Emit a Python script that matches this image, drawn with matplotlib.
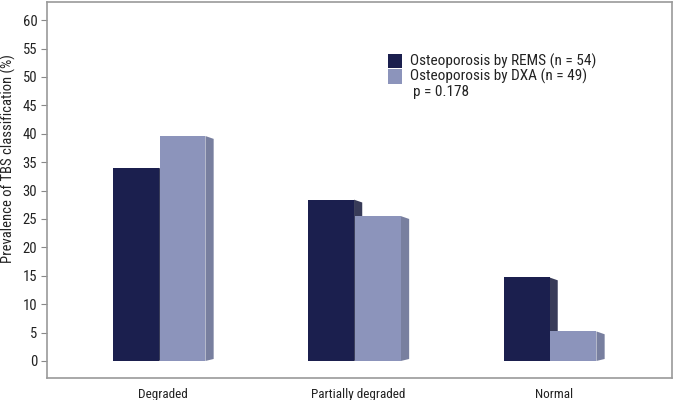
import matplotlib
matplotlib.use("Agg")
import matplotlib.pyplot as plt
from matplotlib.patches import Polygon, Rectangle
from matplotlib import font_manager

categories = ["Degraded", "Partially degraded", "Normal"]
rems = [34.0, 28.4, 14.7]
dxa = [39.6, 25.5, 5.2]
series_labels = ["Osteoporosis by REMS (n = 54)", "Osteoporosis by DXA (n = 49)"]
pvalue_text = "p = 0.178"
yticks = list(range(0, 61, 5))

names = {f.name for f in font_manager.fontManager.ttflist}
fam = "Liberation Sans"
for cand in ["Liberation Sans Narrow", "Arial Narrow", "Roboto Condensed"]:
    if cand in names:
        fam = cand
        break
narrow = fam != "Liberation Sans"
plt.rcParams["font.family"] = [fam, "DejaVu Sans"]
fs_leg = 11 if narrow else 8.7
fs_cat = 9.5 if narrow else 7.8
fs_tick = 10.5 if narrow else 9.8
fs_lab = 10.5 if narrow else 9.2

fig = plt.figure(figsize=(6.75, 4), dpi=100)
ax = fig.add_axes([47 / 675, 22 / 400, 625 / 675, 376 / 400])

front_cols = ["#1b1f4e", "#8c94bb"]
side_cols = ["#383b58", "#787f9f"]
width = 0.235
offsets = [-0.12, 0.12]
depth = 0.042
slant = 0.5

for s, vals in enumerate([rems, dxa]):
    for i, v in enumerate(vals):
        x0 = i + offsets[s] - width / 2
        x1 = x0 + width
        side = Polygon([(x1, 0), (x1 + depth, 0.35), (x1 + depth, v - slant), (x1, v)],
                       closed=True, facecolor=side_cols[s], edgecolor="none", zorder=2 + s)
        ax.add_patch(side)
        ax.add_patch(Rectangle((x0, 0), width, v, facecolor=front_cols[s],
                               edgecolor="none", zorder=2 + s))

ax.set_xlim(-0.573, 2.624)
ax.set_ylim(-3, 63.2)
ax.set_yticks(yticks)
ax.set_yticklabels([str(t) for t in yticks], fontsize=fs_tick, color="#222222")
ax.set_xticks([i + 0.02 for i in range(len(categories))])
ax.set_xticklabels(categories, fontsize=fs_cat, color="#222222")
ax.tick_params(axis="x", length=0, pad=7)
ax.tick_params(axis="y", length=4, color="#888888", pad=3)
for sp in ax.spines.values():
    sp.set_color("#9a9a9a")
    sp.set_linewidth(1.2)
ax.set_ylabel("Prevalence of TBS classification (%)", fontsize=fs_lab, color="#222222")
ax.yaxis.set_label_coords(-0.0496, 0.584)

# legend
lx = 0.546
for k, (lab, col) in enumerate(zip(series_labels, front_cols)):
    yy = 0.843 - k * 0.041
    ax.add_patch(Rectangle((lx, yy - 0.019), 0.0224, 0.038, transform=ax.transAxes,
                           facecolor=col, edgecolor="none", clip_on=False))
    ax.text(lx + 0.035, yy, lab, transform=ax.transAxes, fontsize=fs_leg,
            va="center", ha="left", color="#222222")
ax.text(lx + 0.04, 0.843 - 2 * 0.041, pvalue_text, transform=ax.transAxes, fontsize=fs_leg,
        va="center", ha="left", color="#222222")

fig.savefig("out.png", dpi=100)
